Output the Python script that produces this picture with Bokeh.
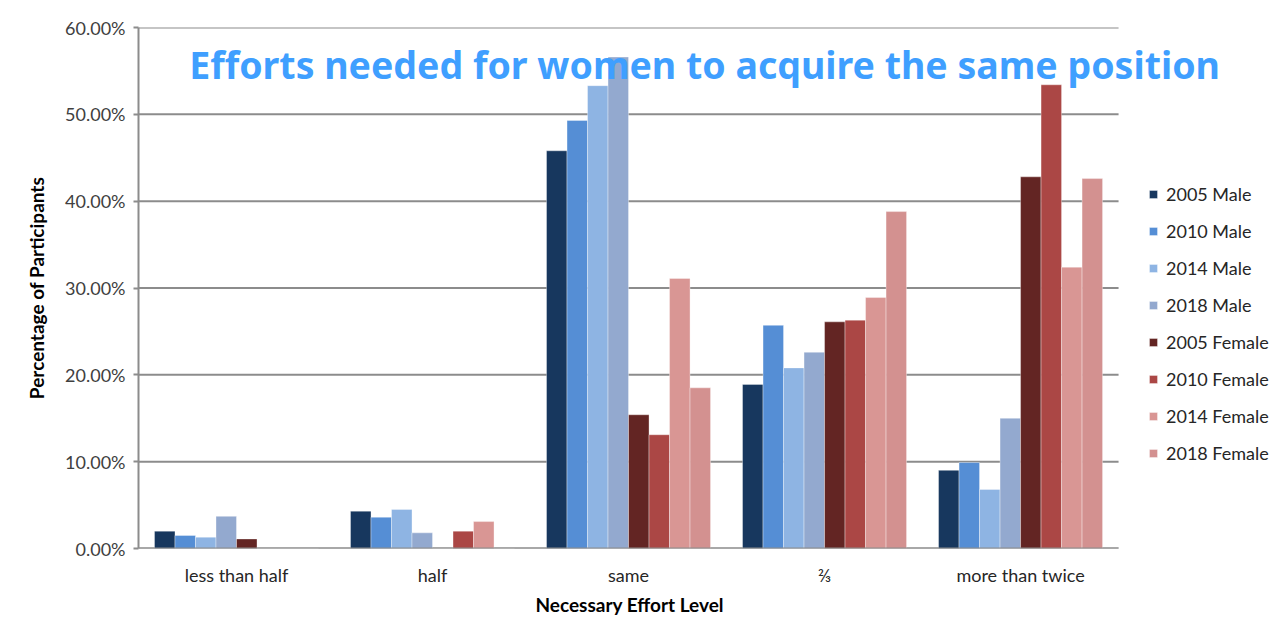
from bokeh.plotting import figure
from bokeh.models import (Range1d, NumeralTickFormatter, Legend, LegendItem,
                          Label, FixedTicker, Title)
from bokeh.embed import file_html
from bokeh.resources import INLINE

# Effort levels and survey series (share of participants)
levels = ["less than half", "half", "same", "\u2154", "more than twice"]
series = ["2005 Male", "2010 Male", "2014 Male", "2018 Male",
          "2005 Female", "2010 Female", "2014 Female", "2018 Female"]

male_2005 = [0.020, 0.043, 0.458, 0.189, 0.090]
male_2010 = [0.015, 0.036, 0.493, 0.257, 0.099]
male_2014 = [0.013, 0.045, 0.533, 0.208, 0.068]
male_2018 = [0.037, 0.018, 0.566, 0.226, 0.150]
female_2005 = [0.011, 0.000, 0.154, 0.261, 0.428]
female_2010 = [0.000, 0.020, 0.131, 0.263, 0.534]
female_2014 = [0.000, 0.031, 0.311, 0.289, 0.324]
female_2018 = [0.000, 0.000, 0.185, 0.388, 0.426]

values = [male_2005, male_2010, male_2014, male_2018,
          female_2005, female_2010, female_2014, female_2018]
colors = ["#17375E", "#558ED5", "#8EB4E3", "#93A9CF",
          "#632523", "#AB4745", "#D99694", "#D39190"]

y_ticks = [0.0, 0.1, 0.2, 0.3, 0.4, 0.5, 0.6]

LABEL_FONT = "Lato"
AXIS_GREY = "#8C8C8C"

# Category slots sit at 0..4; the frame runs on to the right edge so the
# legend and the long title can live inside it.
pos = list(range(len(levels)))
x_lo, x_hi = -0.5, len(levels) - 0.5

p = figure(width=1288, height=642, x_range=Range1d(x_lo, 5.367),
           y_range=Range1d(0, 0.6), output_backend="svg",
           toolbar_location=None, min_border_left=138, min_border_right=0,
           min_border_top=27, min_border_bottom=94)
p.outline_line_color = None
p.background_fill_color = "white"
p.border_fill_color = "white"
p.xgrid.grid_line_color = None
p.ygrid.grid_line_color = None

# Horizontal gridlines across the category area only
p.segment(x0=[x_lo] * len(y_ticks), x1=[x_hi] * len(y_ticks), y0=y_ticks,
          y1=y_ticks, line_color=AXIS_GREY, line_width=2, level="underlay")

bar_w = 0.1046
items = []
for i, (name, col, vals) in enumerate(zip(series, colors, values)):
    xs = [c + (i - 3.5) * bar_w for c in pos]
    r = p.vbar(x=xs, top=vals, width=bar_w, fill_color=col,
               line_color="white", line_alpha=0.35, line_width=1)
    items.append(LegendItem(label=name, renderers=[r]))

# Category axis baseline
p.segment(x0=[x_lo - 0.025], x1=[x_hi], y0=[0], y1=[0],
          line_color=AXIS_GREY, line_width=2)

# Axes
p.yaxis.ticker = FixedTicker(ticks=y_ticks)
p.yaxis.formatter = NumeralTickFormatter(format="0.00%")
p.yaxis.axis_label = "Percentage of Participants"
p.xaxis.ticker = FixedTicker(ticks=pos)
p.xaxis.major_label_overrides = {c: name for c, name in zip(pos, levels)}
for ax in (p.xaxis, p.yaxis):
    ax.major_label_text_font = LABEL_FONT
    ax.major_label_text_font_size = "18px"
    ax.major_label_text_color = "#404040"
    ax.axis_label_text_font = LABEL_FONT
    ax.axis_label_text_font_size = "19px"
    ax.axis_label_text_font_style = "bold"
    ax.axis_label_text_color = "#000000"
    ax.minor_tick_line_color = None
p.yaxis.axis_line_color = AXIS_GREY
p.yaxis.axis_line_width = 2
p.yaxis.major_tick_line_color = AXIS_GREY
p.yaxis.major_tick_line_width = 2
p.yaxis.major_tick_out = 5
p.yaxis.major_tick_in = 0
p.yaxis.major_label_standoff = 8
p.yaxis.axis_label_standoff = 14
p.xaxis.axis_line_color = None
p.xaxis.major_tick_line_color = None
p.xaxis.major_label_standoff = 9
p.xaxis.major_label_text_color = "#262626"

# Category-axis title, placed under the middle of the category slots
x_title = Title(text="Necessary Effort Level", align="left", offset=397,
                text_font=LABEL_FONT, text_font_size="19px",
                text_font_style="bold", text_color="#000000", standoff=4)
p.add_layout(x_title, "below")

legend = Legend(items=items, location=(1010, 84), orientation="vertical",
                background_fill_alpha=0, border_line_color=None,
                glyph_width=10, glyph_height=10, label_height=22,
                spacing=15, padding=0, margin=0,
                label_text_font=LABEL_FONT, label_text_font_size="18px",
                label_text_color="#262626", label_standoff=8)
p.add_layout(legend, "center")

title = Label(x=2.388, y=(548 - 64) / 868.3,
              text="Efforts needed for women to acquire the same position",
              text_font="Noto Sans", text_font_style="bold",
              text_font_size="37.5px", text_color="#3F9FFF",
              text_align="center", text_baseline="alphabetic")
p.add_layout(title)

open("out.html", "w").write(file_html(p, INLINE))
